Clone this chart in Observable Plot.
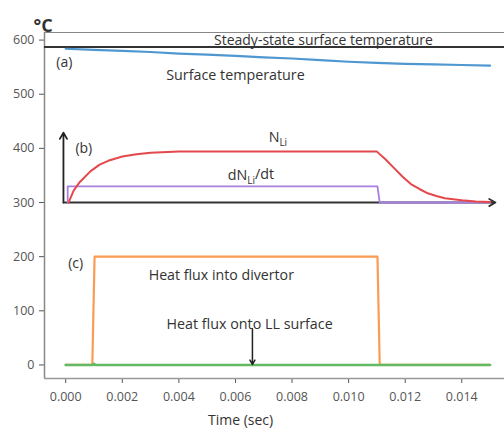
<!DOCTYPE html>
<html>
<head>
<meta charset="utf-8">
<script src="https://cdn.jsdelivr.net/npm/d3@7"></script>
<script src="https://cdn.jsdelivr.net/npm/@observablehq/plot@0.6"></script>
<style>
  html, body { margin: 0; padding: 0; background: #fff; }
  #chart svg { display: block; }
</style>
</head>
<body>
<div id="chart"></div>
<script>
// ---- data ----
const xTicks = [0, 0.002, 0.004, 0.006, 0.008, 0.010, 0.012, 0.014];
const yTicks = [0, 100, 200, 300, 400, 500, 600];
const xDomain = [-0.00075, 0.01551];
const yDomain = [-25, 614];

// (a) surface temperature (deg C)
const surfT = [0, 0.001, 0.002, 0.003, 0.004, 0.005, 0.006, 0.007, 0.008, 0.009, 0.010, 0.011, 0.012, 0.013, 0.014, 0.015];
const surfTemp = [584, 582, 580, 578, 575, 573, 571, 568, 566, 563, 560, 558, 556, 555, 554, 553];
const steadyState = 587;

// (b) schematic N_Li and dN_Li/dt (drawn in the 300-430 band)
const nT = [0.0001, 0.00028, 0.0005, 0.00088, 0.0012, 0.0015, 0.002, 0.0025, 0.003, 0.004, 0.005, 0.007, 0.011, 0.0113, 0.0116, 0.0119, 0.0122, 0.0125, 0.0128, 0.0131, 0.0134, 0.0137, 0.014, 0.0145, 0.015];
const nVal = [300, 322, 338, 358, 370, 377, 385, 389, 392, 394, 394, 394, 394, 380, 364, 348, 334, 325, 317, 312, 308, 306, 304, 302, 301];
const dnT = [0.00007, 0.00007, 0.01102, 0.0111, 0.015];
const dnVal = [300, 330, 330, 300, 300];
const insetAxisX = [-0.00008, 0.01519];
const insetAxisY = [300, 429];

// (c) heat fluxes
const divT = [0, 0.00094, 0.00102, 0.01102, 0.0111, 0.015];
const divQ = [0, 0, 200, 200, 0, 0];
const llT = [0, 0.00095, 0.001, 0.00105, 0.015];
const llQ = [0, 0, 2, 0, 0];
const llArrow = {t: 0.0066, from: 67, to: 1};

// annotations
const labels = [
  {t: -0.00005, v: 558, text: "(a)", size: 14},
  {t: 0.0060, v: 534, text: "Surface temperature", size: 14.3},
  {t: 0.00911, v: 599, text: "Steady-state surface temperature", size: 14},
  {t: 0.00064, v: 400, text: "(b)", size: 14},
  {t: 0.0075, v: 420, text: "N_Li", size: 14.3},
  {t: 0.00655, v: 350, text: "dN_Li/dt", size: 14.3},
  {t: 0.00035, v: 187, text: "(c)", size: 14},
  {t: 0.0055, v: 165, text: "Heat flux into divertor", size: 14.2},
  {t: 0.0065, v: 75, text: "Heat flux onto LL surface", size: 14.3}
];
const xLabel = {t: 0.00618, text: "Time (sec)"};
const unitLabel = "°C";

// ---- build ----
const toPts = (ts, vs) => ts.map((t, i) => ({t, v: vs[i]}));
const font = "'Open Sans', 'Noto Sans', sans-serif";

const plot = Plot.plot({
  width: 504,
  height: 430,
  marginLeft: 44,
  marginRight: 0,
  marginTop: 32,
  marginBottom: 52,
  style: {fontFamily: font, background: "#fff"},
  x: {domain: xDomain},
  y: {domain: yDomain},
  marks: [
    Plot.axisY({ticks: yTicks, tickSize: 5, tickPadding: 5, fontSize: 12.5, color: "#555", label: null}),
    Plot.axisX({ticks: xTicks, tickSize: 5, tickPadding: 9, fontSize: 12.5, color: "#555", tickFormat: d3.format(".3f"), label: null}),
    // spines
    Plot.ruleX([xDomain[0]], {stroke: "#888", strokeWidth: 1.5}),
    Plot.ruleY([yDomain[0]], {stroke: "#999", strokeWidth: 1.5}),
    Plot.ruleY([yDomain[1]], {stroke: "#888", strokeWidth: 1.2}),
    // steady-state line
    Plot.ruleY([steadyState], {stroke: "#333", strokeWidth: 2}),
    // (a)
    Plot.line(toPts(surfT, surfTemp), {x: "t", y: "v", stroke: "#4f97d0", strokeWidth: 2.2}),
    // (b) inset axes
    Plot.arrow([{x1: insetAxisX[0], y1: insetAxisY[0], x2: insetAxisX[0], y2: insetAxisY[1]}],
      {x1: "x1", y1: "y1", x2: "x2", y2: "y2", stroke: "#222", strokeWidth: 1.8, headLength: 6, insetStart: 0, insetEnd: 0}),
    Plot.arrow([{x1: insetAxisX[0], y1: insetAxisY[0], x2: insetAxisX[1], y2: insetAxisY[0]}],
      {x1: "x1", y1: "y1", x2: "x2", y2: "y2", stroke: "#333", strokeWidth: 1.8, headLength: 6, insetStart: 0, insetEnd: 0}),
    Plot.line(toPts(dnT, dnVal), {x: "t", y: "v", stroke: "#a77fe0", strokeWidth: 1.8}),
    Plot.line(toPts(nT, nVal), {x: "t", y: "v", stroke: "#e4484c", strokeWidth: 2}),
    // (c)
    Plot.line(toPts(divT, divQ), {x: "t", y: "v", stroke: "#fb9c52", strokeWidth: 2.2}),
    Plot.line(toPts(llT, llQ), {x: "t", y: "v", stroke: "#62b962", strokeWidth: 2.6}),
    Plot.arrow([llArrow], {x1: "t", y1: "from", x2: "t", y2: "to", stroke: "#222", strokeWidth: 1.5, headLength: 5, insetStart: 0, insetEnd: 0}),
    // annotations
    ...labels.map(l => Plot.text([l], {x: "t", y: "v", text: "text", fontSize: l.size, fill: "#333", textAnchor: "middle"})),
    Plot.text([xLabel], {x: "t", text: "text", frameAnchor: "bottom", dy: 46, fontSize: 14, fill: "#333"}),
    Plot.text([unitLabel], {text: d => d, frameAnchor: "top-left", dx: -11, dy: -13, fontSize: 18, fontWeight: "bold", fill: "#333"})
  ]
});

// subscripts for N_Li labels
d3.select(plot).selectAll("text").each(function() {
  const el = d3.select(this);
  const s = this.textContent;
  if (this.childElementCount === 0 && s.includes("_Li")) {
    const [pre, post] = s.split("_Li");
    el.text(null);
    el.append("tspan").text(pre);
    el.append("tspan").attr("dy", "0.35em").attr("font-size", "0.7em").text("Li");
    if (post) el.append("tspan").attr("dy", "-0.35em").text(post);
  }
});

document.getElementById("chart").append(plot);
</script>
</body>
</html>
